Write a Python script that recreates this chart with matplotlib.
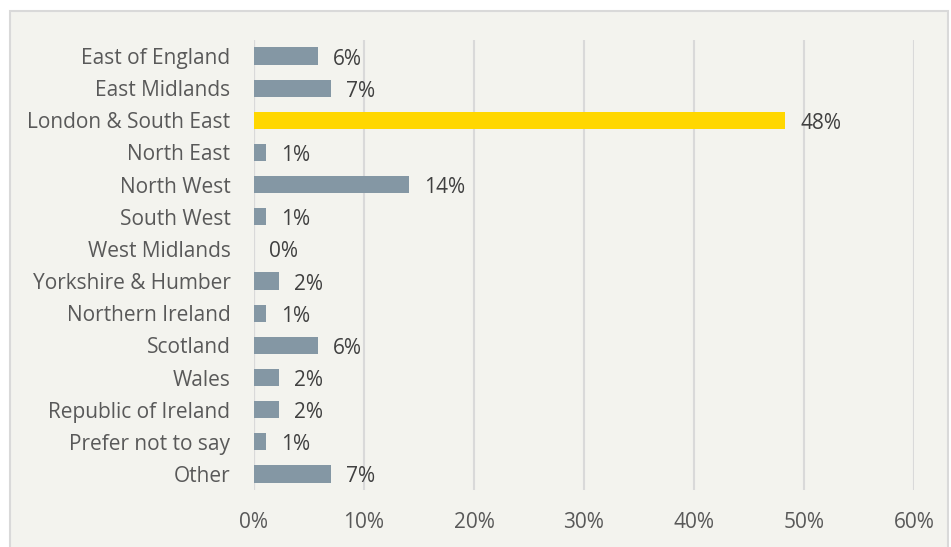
import matplotlib
matplotlib.use("Agg")
import matplotlib.pyplot as plt
from matplotlib.patches import Rectangle
from matplotlib.ticker import FuncFormatter, MultipleLocator

categories = ["East of England", "East Midlands", "London & South East", "North East",
              "North West", "South West", "West Midlands", "Yorkshire & Humber",
              "Northern Ireland", "Scotland", "Wales", "Republic of Ireland",
              "Prefer not to say", "Other"]
values = [5.8, 7.0, 48.3, 1.1, 14.1, 1.1, 0.0, 2.3, 1.1, 5.8, 2.3, 2.3, 1.1, 7.0]
labels = ["6%", "7%", "48%", "1%", "14%", "1%", "0%", "2%", "1%", "6%", "2%", "2%", "1%", "7%"]
highlight = "London & South East"

plt.rcParams['font.family'] = ['Open Sans', 'DejaVu Sans']
bg = "#f3f3ee"
txt = "#595959"
fig = plt.figure(figsize=(9.51, 5.47), dpi=100)
fig.patch.set_facecolor("white")
fig.patches.append(Rectangle((10/951, -0.01), 938/951, 1 - 11/547 + 0.01,
                             transform=fig.transFigure, facecolor=bg,
                             edgecolor="#d9d9d9", linewidth=1.5, zorder=-10))
ax = fig.add_axes([254/951, 1 - 490/547, 660/951, 450/547])
ax.set_zorder(5)
ax.patch.set_alpha(0)

ypos = list(range(len(categories)))
colors = ["#ffd700" if c == highlight else "#8497a4" for c in categories]
bars = ax.barh(ypos, values, height=0.54, color=colors, zorder=3)
for y, v, l in zip(ypos, values, labels):
    ax.annotate(l, (v, y), xytext=(15, -3), textcoords="offset pixels",
                va="center", ha="left", fontsize=15, color="#404040")

ax.set_xlim(0, 60)
ax.set_ylim(len(categories) - 0.5, -0.5)
ax.xaxis.set_major_locator(MultipleLocator(10))
ax.xaxis.set_major_formatter(FuncFormatter(lambda x, p: f"{int(round(x))}%"))
ax.set_yticks(ypos)
ax.set_yticklabels(categories)
ax.grid(axis="x", color="#d9d9d9", linewidth=1.5, zorder=0)
for s in ax.spines.values():
    s.set_visible(False)
ax.axvline(0, color="#d9d9d9", linewidth=1.5, zorder=1)
ax.tick_params(axis="both", length=0, labelsize=15, labelcolor=txt)
ax.tick_params(axis="y", pad=17)
ax.tick_params(axis="x", pad=16)

fig.savefig("out.png", dpi=100, facecolor=fig.get_facecolor())
